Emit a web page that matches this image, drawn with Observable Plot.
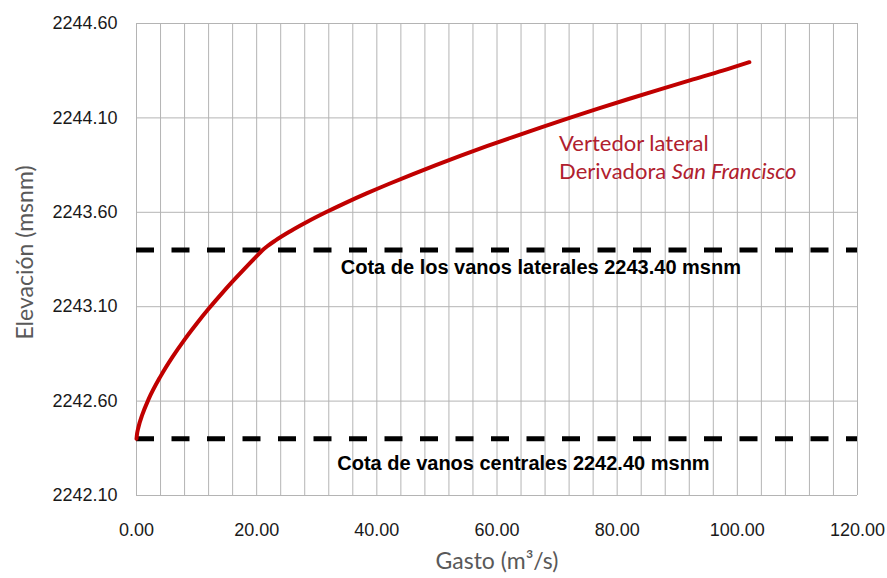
<!DOCTYPE html>
<html>
<head>
<meta charset="utf-8">
<script src="https://cdn.jsdelivr.net/npm/d3@7"></script>
<script src="https://cdn.jsdelivr.net/npm/@observablehq/plot@0.6"></script>
<style>
  html, body { margin: 0; padding: 0; background: #ffffff; }
  #chart { width: 887px; height: 578px; }
</style>
</head>
<body>
<div id="chart"></div>
<script>
// Curva de descarga: gasto (m3/s) vs elevación (msnm)
const gasto = [0, 0.1, 0.3, 1, 2, 4, 6, 8, 10, 12, 14, 16, 18, 20, 21, 21.76, 23.08, 25.61, 28.43, 31.51, 34.80, 38.29, 41.97, 45.82, 49.83, 53.99, 58.30, 62.76, 67.36, 72.08, 76.94, 81.91, 87.01, 92.23, 97.55, 102];
const elevacion = [2242.400, 2242.428, 2242.459, 2242.531, 2242.609, 2242.731, 2242.834, 2242.926, 2243.010, 2243.089, 2243.163, 2243.234, 2243.302, 2243.368, 2243.400, 2243.420, 2243.450, 2243.500, 2243.550, 2243.600, 2243.650, 2243.700, 2243.750, 2243.800, 2243.850, 2243.900, 2243.950, 2244.000, 2244.050, 2244.100, 2244.150, 2244.200, 2244.250, 2244.300, 2244.350, 2244.395];

// Cotas de vanos (líneas discontinuas)
const cotas = [2243.40, 2242.40];
const cotaLabels = ["Cota de los vanos laterales 2243.40 msnm", "Cota de vanos centrales 2242.40 msnm"];
const cotaLabelX = [67.3, 64.4];
const cotaLabelY = [2243.308, 2242.271];

// Ticks
const xTicks = [0, 20, 40, 60, 80, 100, 120];
const yTicks = [2242.10, 2242.60, 2243.10, 2243.60, 2244.10, 2244.60];
const xGrid = d3.range(0, 121, 4);

// Serie label
const serieLabels = ["Vertedor lateral", "Derivadora San Francisco"];
const serieLabelX = [70.33, 70.33];
const serieLabelY = [2243.962, 2243.814];

const data = gasto.map((q, i) => ({q, h: elevacion[i]}));
const cotaData = cotaLabels.map((t, i) => ({t, x: cotaLabelX[i], y: cotaLabelY[i]}));
const serieData = serieLabels.map((t, i) => ({t, x: serieLabelX[i], y: serieLabelY[i]}));

const gridColor = "#b4b4b4";
const red = "#c00000";

const chart = Plot.plot({
  width: 887,
  height: 578,
  marginLeft: 136,
  marginRight: 30,
  marginTop: 23,
  marginBottom: 83,
  style: {fontFamily: "'Liberation Sans', Arial, sans-serif", fontSize: "18px", color: "#1a1a1a", background: "#ffffff", overflow: "visible"},
  x: {domain: [0, 120]},
  y: {domain: [2242.10, 2244.60]},
  marks: [
    Plot.ruleX(xGrid, {stroke: gridColor, strokeWidth: 1, strokeOpacity: 1}),
    Plot.ruleY(yTicks, {stroke: gridColor, strokeWidth: 1, strokeOpacity: 1}),
    Plot.axisX({ticks: xTicks, tickSize: 0, tickPadding: 28, tickFormat: d => d.toFixed(2), label: null, fontSize: 18}),
    Plot.axisY({ticks: yTicks, tickSize: 0, tickPadding: 19, tickFormat: d => d.toFixed(2), label: null, fontSize: 18}),
    Plot.ruleY(cotas, {stroke: "#000000", strokeWidth: 5, strokeDasharray: "18,17.5"}),
    Plot.line(data, {x: "q", y: "h", stroke: red, strokeWidth: 4, curve: "monotone-x", strokeLinecap: "round"}),
    Plot.text(cotaData, {x: "x", y: "y", text: "t", fontSize: 20, fontWeight: "bold", fill: "#000000", textAnchor: "middle", fontFamily: "'Liberation Sans', Arial, sans-serif"}),
    Plot.text(serieData, {x: "x", y: "y", text: "t", fontSize: 22, fill: "#b0202e", textAnchor: "start", fontFamily: "Lato, sans-serif"}),
    Plot.text(["Gasto (m³/s)"], {frameAnchor: "bottom", textAnchor: "middle", dy: 73, fontSize: 23, fill: "#595959", fontFamily: "Lato, sans-serif"}),
    Plot.text(["Elevación (msnm)"], {frameAnchor: "left", textAnchor: "middle", dx: -110.4, dy: -7, rotate: -90, fontSize: 23, fill: "#595959", fontFamily: "Lato, sans-serif"})
  ]
});

// Italic "San Francisco" in the series label
d3.select(chart).selectAll("text").filter(function() { return this.textContent === "Derivadora San Francisco"; })
  .each(function() {
    const t = d3.select(this);
    t.text(null);
    t.append("tspan").text("Derivadora ");
    t.append("tspan").attr("font-style", "italic").text("San Francisco");
  });

document.getElementById("chart").appendChild(chart);
</script>
</body>
</html>
